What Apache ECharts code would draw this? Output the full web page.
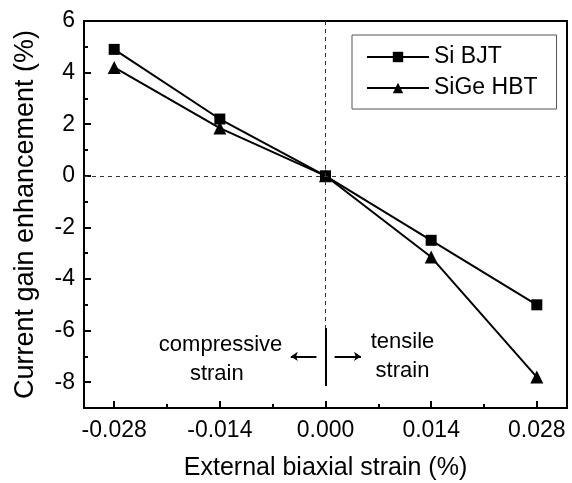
<!DOCTYPE html>
<html><head><meta charset="utf-8">
<script src="https://cdn.jsdelivr.net/npm/echarts@6/dist/echarts.min.js"></script>
<style>html,body{margin:0;padding:0;background:#fff}#c{width:572px;height:483px}</style>
</head><body><div id="c"></div>
<script>
var strain = [-0.028, -0.014, 0.000, 0.014, 0.028];
var siBJT = [4.9, 2.2, 0.0, -2.5, -5.0];
var siGeHBT = [4.2, 1.85, 0.0, -3.15, -7.8];
var xTickLabels = [-0.028, -0.014, 0.000, 0.014, 0.028];
var xMinorTicks = [-0.021, -0.007, 0.007, 0.021];
var yTickLabels = [-8, -6, -4, -2, 0, 2, 4, 6];
var yMinorTicks = [-9, -7, -5, -3, -1, 1, 3, 5];

var FONT = '"Liberation Sans", Arial, sans-serif';
var chart = echarts.init(document.getElementById('c'));
function pairs(xs, ys){ return xs.map(function(x,i){return [x, ys[i]];}); }

var option = {
  animation: false,
  backgroundColor: '#fff',
  textStyle: {fontFamily: FONT},
  grid: {left: 84, right: 5, top: 21, bottom: 75, outerBoundsMode: 'none', containLabel: false,
    show: true, borderColor: '#000', borderWidth: 2, backgroundColor: 'transparent'},
  legend: {
    left: 352, top: 35, orient: 'vertical',
    padding: [10, 19, 9, 14],
    itemWidth: 62, itemHeight: 13, itemGap: 7,
    borderColor: '#555', borderWidth: 1,
    textStyle: {fontFamily: FONT, fontSize: 23, color: '#000', lineHeight: 24},
    data: ['Si BJT', 'SiGe HBT']
  },
  xAxis: [{
    type: 'value', min: -0.032, max: 0.032,
    name: 'External biaxial strain (%)', nameLocation: 'middle', nameGap: 48, nameMoveOverlap: false,
    nameTextStyle: {fontFamily: FONT, fontSize: 25, color: '#000'},
    axisLine: {onZero: false, lineStyle: {color: '#000', width: 2}},
    axisTick: {inside: true, length: 7, lineStyle: {color: '#000', width: 2}, customValues: xTickLabels},
    axisLabel: {customValues: xTickLabels, fontFamily: FONT, fontSize: 23, color: '#000', margin: 11,
      formatter: function(v){ return v.toFixed(3); }},
    splitLine: {show: false}
  }, {
    type: 'value', min: -0.032, max: 0.032, position: 'bottom',
    axisLine: {show: false, onZero: false},
    axisTick: {inside: true, length: 4, lineStyle: {color: '#000', width: 2}, customValues: xMinorTicks},
    axisLabel: {show: false}, splitLine: {show: false}
  }],
  yAxis: [{
    type: 'value', min: -9, max: 6,
    name: 'Current gain enhancement (%)', nameLocation: 'middle', nameGap: 45, nameMoveOverlap: false,
    nameTextStyle: {fontFamily: FONT, fontSize: 27, color: '#000'},
    axisLine: {onZero: false, lineStyle: {color: '#000', width: 2}},
    axisTick: {inside: true, length: 7, lineStyle: {color: '#000', width: 2}, customValues: yTickLabels},
    axisLabel: {customValues: yTickLabels, fontFamily: FONT, fontSize: 23, color: '#000', margin: 9},
    splitLine: {show: false}
  }, {
    type: 'value', min: -9, max: 6, position: 'left',
    axisLine: {show: false, onZero: false},
    axisTick: {inside: true, length: 4, lineStyle: {color: '#000', width: 2}, customValues: yMinorTicks},
    axisLabel: {show: false}, splitLine: {show: false}
  }],
  series: [{
    name: 'Si BJT', type: 'line', data: pairs(strain, siBJT),
    symbol: 'rect', symbolSize: 11,
    lineStyle: {color: '#000', width: 2}, itemStyle: {color: '#000'},
    z: 3,
    markLine: {
      silent: true, symbol: ['none', 'none'], label: {show: false},
      data: [
        [{coord: [-0.032, 0], lineStyle: {type: [4, 4], width: 1, color: '#333'}}, {coord: [0.032, 0]}],
        [{coord: [0, 6], lineStyle: {type: [4, 4], width: 1, color: '#333'}}, {coord: [0, -5.9]}],
        [{coord: [0, -5.9], lineStyle: {type: 'solid', width: 2, color: '#000'}}, {coord: [0, -8.15]}],
        [{coord: [-0.0012, -7.0], symbol: 'none', lineStyle: {type: 'solid', width: 2, color: '#000'}}, {coord: [-0.0046, -7.0], symbol: 'arrow', symbolSize: [7, 7]}],
        [{coord: [0.0012, -7.0], symbol: 'none', lineStyle: {type: 'solid', width: 2, color: '#000'}}, {coord: [0.0047, -7.0], symbol: 'arrow', symbolSize: [7, 7]}]
      ]
    }
  }, {
    name: 'SiGe HBT', type: 'line', data: pairs(strain, siGeHBT),
    symbol: 'triangle', symbolSize: 13,
    lineStyle: {color: '#000', width: 2}, itemStyle: {color: '#000'},
    z: 3
  }]
};
chart.setOption(option);

var notes = [
  {t: 'compressive', x: -0.0139, y: -6.55},
  {t: 'strain', x: -0.0144, y: -7.68},
  {t: 'tensile', x: 0.0102, y: -6.45},
  {t: 'strain', x: 0.0102, y: -7.58}
];
var g = notes.map(function(n){
  var p = chart.convertToPixel({xAxisIndex: 0, yAxisIndex: 0}, [n.x, n.y]);
  return {type: 'text', x: p[0], y: p[1], z: 10,
    style: {text: n.t, fill: '#000', font: '22px ' + FONT, align: 'center', verticalAlign: 'middle'}};
});
chart.setOption({graphic: g});
</script></body></html>
